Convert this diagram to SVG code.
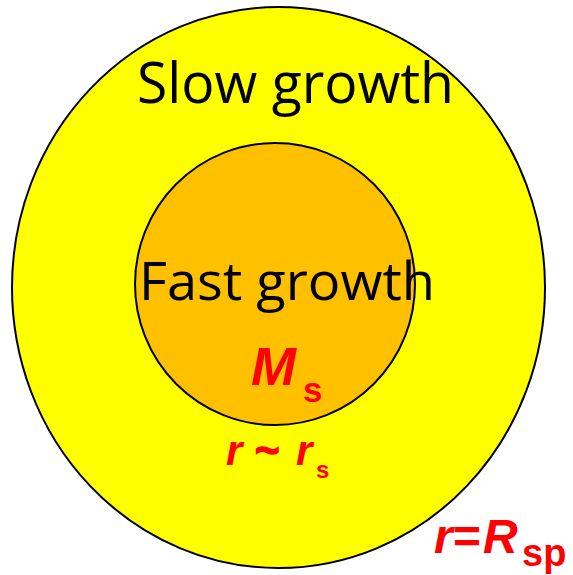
<svg xmlns="http://www.w3.org/2000/svg" width="573" height="575" viewBox="0 0 573 575">
<style>
.region{stroke:#000;stroke-width:2}
.lbl{font-family:"Open Sans","Noto Sans","Liberation Sans",sans-serif;fill:#000}
.math{font-family:"Liberation Sans",Arial,sans-serif;font-weight:bold;fill:#FF0000}
.it{font-style:italic}
</style>
<rect width="573" height="575" fill="#fff"/>
<g id="slow-growth">
<ellipse class="region" cx="278.5" cy="287.5" rx="266.5" ry="280.5" fill="#FFFF00"/>
<text class="lbl" x="137" y="103" font-size="56" textLength="317" lengthAdjust="spacingAndGlyphs">Slow growth</text>
</g>
<g id="fast-growth">
<ellipse class="region" cx="275" cy="284" rx="140" ry="141" fill="#FFC000" stroke-width="1.6"/>
<text class="lbl" x="139" y="300" font-size="53" textLength="296" lengthAdjust="spacingAndGlyphs">Fast growth</text>
<text class="math" y="385"><tspan class="it" x="251" font-size="54">M</tspan><tspan x="303" y="402" font-size="35">s</tspan></text>
</g>
<g id="label-rs">
<text class="math" y="465" font-size="42"><tspan class="it" x="226">r</tspan><tspan x="255" stroke="#FF0000" stroke-width="1.5">~</tspan><tspan class="it" x="296">r</tspan><tspan x="316" y="478" font-size="24">s</tspan></text>
</g>
<g id="label-rsp">
<text class="math" y="553" font-size="48"><tspan class="it" x="434">r</tspan><tspan x="453">=</tspan><tspan class="it" x="483">R</tspan><tspan x="522" y="566" font-size="38">sp</tspan></text>
</g>
</svg>
